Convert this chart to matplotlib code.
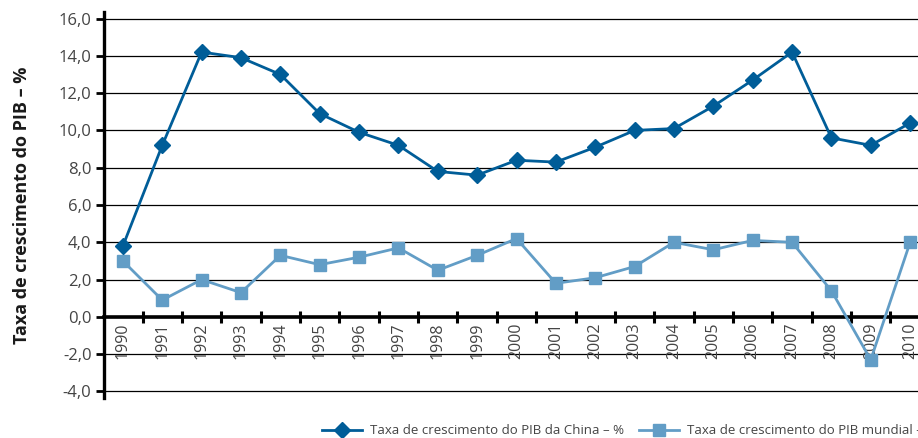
import numpy as np
from matplotlib import pyplot as plt

years = [str(y) for y in range(1990, 2011)]
china = [3.8, 9.2, 14.2, 13.9, 13.0, 10.9, 9.9, 9.2, 7.8, 7.6, 8.4,
         8.3, 9.1, 10.0, 10.1, 11.3, 12.7, 14.2, 9.6, 9.2, 10.4]
world = [3.0, 0.9, 2.0, 1.3, 3.3, 2.8, 3.2, 3.7, 2.5, 3.3, 4.2,
         1.8, 2.1, 2.7, 4.0, 3.6, 4.1, 4.0, 1.4, -2.3, 4.0]
yticks = [-4, -2, 0, 2, 4, 6, 8, 10, 12, 14, 16]

china_label = "Taxa de crescimento do PIB da China – %"
world_label = "Taxa de crescimento do PIB mundial – %"

plt.rcParams['font.family'] = ['Open Sans', 'DejaVu Sans']
text_color = '#444444'

fig = plt.figure(figsize=(9.18, 4.38), dpi=100)
ax = fig.add_axes([104 / 918, 40 / 438, 814 / 918, 386 / 438])

x = np.arange(len(years))
ax.plot(x, china, color='#005d98', lw=2.0, marker='D', markersize=8.5,
        label=china_label, zorder=4)
ax.plot(x, world, color='#629dc6', lw=2.0, marker='s', markersize=9,
        label=world_label, zorder=3)

ax.set_xlim(-0.48, 20.2)
ax.set_ylim(-4.35, 16.35)

# horizontal grid
for v in yticks:
    ax.axhline(v, color='black', lw=0.9, zorder=1)

ax.spines['top'].set_visible(False)
ax.spines['right'].set_visible(False)
ax.spines['left'].set_linewidth(2.4)
ax.spines['bottom'].set_position(('data', 0))
ax.spines['bottom'].set_linewidth(2.6)
ax.spines['bottom'].set_zorder(2)

ax.set_yticks(yticks)
ax.set_yticklabels([f"{v:.1f}".replace('.', ',') for v in yticks],
                   fontsize=12, color=text_color)
ax.tick_params(axis='y', direction='out', length=6, width=2, pad=3)

ax.set_xticks(x)
ax.set_xticklabels(years, rotation=90, fontsize=11.5, color=text_color, va='top')
ax.set_xticks(x[:-1] + 0.5, minor=True)
ax.tick_params(axis='x', which='major', length=0, pad=4)
ax.tick_params(axis='x', which='minor', direction='inout', length=8, width=2.2)

ax.set_ylabel("Taxa de crescimento do PIB – %", fontsize=13, fontweight='bold',
              color='#1a1a1a', labelpad=20)

fig.legend(loc='center left', bbox_to_anchor=(322 / 918, 1 - 431 / 438),
           ncol=2, frameon=False, fontsize=9.5, handlelength=3.0,
           handletextpad=0.6, columnspacing=1.2, labelcolor=text_color,
           borderpad=0, borderaxespad=0)

plt.savefig("out.png", dpi=100)
